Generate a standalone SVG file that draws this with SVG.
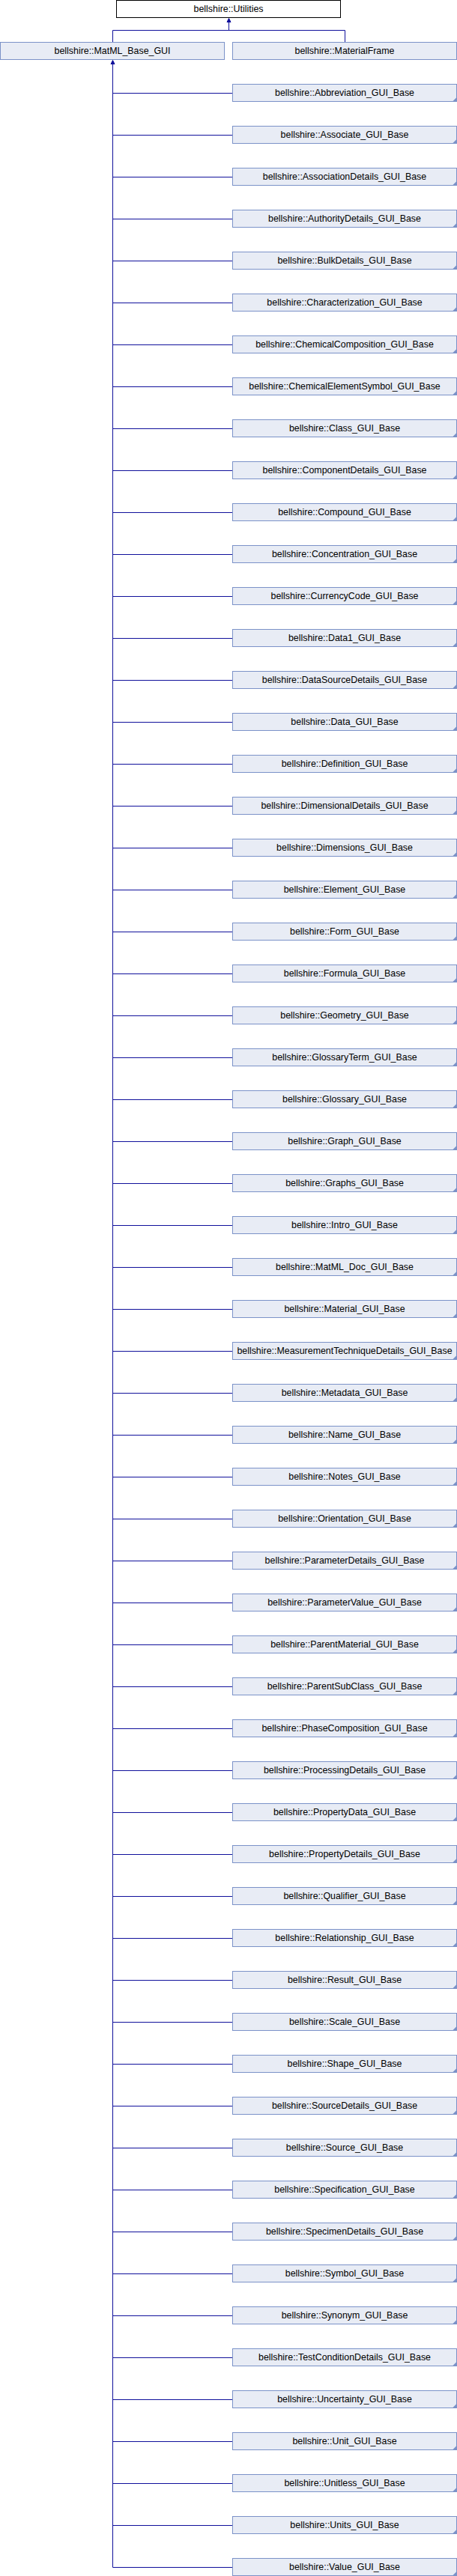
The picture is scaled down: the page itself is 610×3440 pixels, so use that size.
<svg xmlns="http://www.w3.org/2000/svg" xmlns:xlink="http://www.w3.org/1999/xlink" width="610" height="3440" viewBox="0 0 610 3440">
<style>
text{font-family:"Liberation Sans",Arial,sans-serif;font-size:12.4px;fill:#000;text-anchor:middle}
.b{fill:#e8ecf5;stroke:#7b92c8;stroke-width:1}
.r{fill:#fff;stroke:#000;stroke-width:1}
.c{fill:none;stroke:#10109b;stroke-width:1}
.a{fill:#10109b;stroke:#10109b;stroke-width:1}
.f{fill:#7b92c8}
</style>
<defs>
<polygon id="fold" class="f" points="603.5,24 610,17.5 610,24"/>
</defs>
<g id="connectors">
<path class="c" d="M305.5,29 V40.5 M150.5,40.5 H460.5 M150.5,40.5 V56.5 M460.5,40.5 V56.5"/>
<polygon class="a" points="305.5,24.5 303,29.5 308,29.5"/>
<path class="c" d="M150.5,85 V3428.5"/>
<polygon class="a" points="150.5,80.5 148,85.5 153,85.5"/>
<path class="c" d="M150.5,124.5H310.5M150.5,180.5H310.5M150.5,236.5H310.5M150.5,292.5H310.5M150.5,348.5H310.5M150.5,404.5H310.5M150.5,460.5H310.5M150.5,516.5H310.5M150.5,572.5H310.5M150.5,628.5H310.5M150.5,684.5H310.5M150.5,740.5H310.5M150.5,796.5H310.5M150.5,852.5H310.5M150.5,908.5H310.5M150.5,964.5H310.5M150.5,1020.5H310.5M150.5,1076.5H310.5M150.5,1132.5H310.5M150.5,1188.5H310.5M150.5,1244.5H310.5M150.5,1300.5H310.5M150.5,1356.5H310.5M150.5,1412.5H310.5M150.5,1468.5H310.5M150.5,1524.5H310.5M150.5,1580.5H310.5M150.5,1636.5H310.5M150.5,1692.5H310.5M150.5,1748.5H310.5M150.5,1804.5H310.5M150.5,1860.5H310.5M150.5,1916.5H310.5M150.5,1972.5H310.5M150.5,2028.5H310.5M150.5,2084.5H310.5M150.5,2140.5H310.5M150.5,2196.5H310.5M150.5,2252.5H310.5M150.5,2308.5H310.5M150.5,2364.5H310.5M150.5,2420.5H310.5M150.5,2476.5H310.5M150.5,2532.5H310.5M150.5,2588.5H310.5M150.5,2644.5H310.5M150.5,2700.5H310.5M150.5,2756.5H310.5M150.5,2812.5H310.5M150.5,2868.5H310.5M150.5,2924.5H310.5M150.5,2980.5H310.5M150.5,3036.5H310.5M150.5,3092.5H310.5M150.5,3148.5H310.5M150.5,3204.5H310.5M150.5,3260.5H310.5M150.5,3316.5H310.5M150.5,3372.5H310.5M150.5,3428.5H310.5"/>
</g>
<g id="Utilities"><rect class="r" x="155.5" y="0.5" width="299" height="23"/><text x="305" y="16">bellshire::Utilities</text></g>
<g id="MatML_Base_GUI"><rect class="b" x="0.5" y="56.5" width="299" height="23"/><text x="150" y="72">bellshire::MatML_Base_GUI</text></g>
<g id="MaterialFrame"><rect class="b" x="310.5" y="56.5" width="299" height="23"/><text x="460" y="72">bellshire::MaterialFrame</text></g>
<g id="n0" transform="translate(0,112)"><rect class="b" x="310.5" y="0.5" width="299" height="23"/><use xlink:href="#fold"/><text x="460" y="16">bellshire::Abbreviation_GUI_Base</text></g>
<g id="n1" transform="translate(0,168)"><rect class="b" x="310.5" y="0.5" width="299" height="23"/><use xlink:href="#fold"/><text x="460" y="16">bellshire::Associate_GUI_Base</text></g>
<g id="n2" transform="translate(0,224)"><rect class="b" x="310.5" y="0.5" width="299" height="23"/><use xlink:href="#fold"/><text x="460" y="16">bellshire::AssociationDetails_GUI_Base</text></g>
<g id="n3" transform="translate(0,280)"><rect class="b" x="310.5" y="0.5" width="299" height="23"/><use xlink:href="#fold"/><text x="460" y="16">bellshire::AuthorityDetails_GUI_Base</text></g>
<g id="n4" transform="translate(0,336)"><rect class="b" x="310.5" y="0.5" width="299" height="23"/><use xlink:href="#fold"/><text x="460" y="16">bellshire::BulkDetails_GUI_Base</text></g>
<g id="n5" transform="translate(0,392)"><rect class="b" x="310.5" y="0.5" width="299" height="23"/><use xlink:href="#fold"/><text x="460" y="16">bellshire::Characterization_GUI_Base</text></g>
<g id="n6" transform="translate(0,448)"><rect class="b" x="310.5" y="0.5" width="299" height="23"/><use xlink:href="#fold"/><text x="460" y="16">bellshire::ChemicalComposition_GUI_Base</text></g>
<g id="n7" transform="translate(0,504)"><rect class="b" x="310.5" y="0.5" width="299" height="23"/><use xlink:href="#fold"/><text x="460" y="16">bellshire::ChemicalElementSymbol_GUI_Base</text></g>
<g id="n8" transform="translate(0,560)"><rect class="b" x="310.5" y="0.5" width="299" height="23"/><use xlink:href="#fold"/><text x="460" y="16">bellshire::Class_GUI_Base</text></g>
<g id="n9" transform="translate(0,616)"><rect class="b" x="310.5" y="0.5" width="299" height="23"/><use xlink:href="#fold"/><text x="460" y="16">bellshire::ComponentDetails_GUI_Base</text></g>
<g id="n10" transform="translate(0,672)"><rect class="b" x="310.5" y="0.5" width="299" height="23"/><use xlink:href="#fold"/><text x="460" y="16">bellshire::Compound_GUI_Base</text></g>
<g id="n11" transform="translate(0,728)"><rect class="b" x="310.5" y="0.5" width="299" height="23"/><use xlink:href="#fold"/><text x="460" y="16">bellshire::Concentration_GUI_Base</text></g>
<g id="n12" transform="translate(0,784)"><rect class="b" x="310.5" y="0.5" width="299" height="23"/><use xlink:href="#fold"/><text x="460" y="16">bellshire::CurrencyCode_GUI_Base</text></g>
<g id="n13" transform="translate(0,840)"><rect class="b" x="310.5" y="0.5" width="299" height="23"/><use xlink:href="#fold"/><text x="460" y="16">bellshire::Data1_GUI_Base</text></g>
<g id="n14" transform="translate(0,896)"><rect class="b" x="310.5" y="0.5" width="299" height="23"/><use xlink:href="#fold"/><text x="460" y="16">bellshire::DataSourceDetails_GUI_Base</text></g>
<g id="n15" transform="translate(0,952)"><rect class="b" x="310.5" y="0.5" width="299" height="23"/><use xlink:href="#fold"/><text x="460" y="16">bellshire::Data_GUI_Base</text></g>
<g id="n16" transform="translate(0,1008)"><rect class="b" x="310.5" y="0.5" width="299" height="23"/><use xlink:href="#fold"/><text x="460" y="16">bellshire::Definition_GUI_Base</text></g>
<g id="n17" transform="translate(0,1064)"><rect class="b" x="310.5" y="0.5" width="299" height="23"/><use xlink:href="#fold"/><text x="460" y="16">bellshire::DimensionalDetails_GUI_Base</text></g>
<g id="n18" transform="translate(0,1120)"><rect class="b" x="310.5" y="0.5" width="299" height="23"/><use xlink:href="#fold"/><text x="460" y="16">bellshire::Dimensions_GUI_Base</text></g>
<g id="n19" transform="translate(0,1176)"><rect class="b" x="310.5" y="0.5" width="299" height="23"/><use xlink:href="#fold"/><text x="460" y="16">bellshire::Element_GUI_Base</text></g>
<g id="n20" transform="translate(0,1232)"><rect class="b" x="310.5" y="0.5" width="299" height="23"/><use xlink:href="#fold"/><text x="460" y="16">bellshire::Form_GUI_Base</text></g>
<g id="n21" transform="translate(0,1288)"><rect class="b" x="310.5" y="0.5" width="299" height="23"/><use xlink:href="#fold"/><text x="460" y="16">bellshire::Formula_GUI_Base</text></g>
<g id="n22" transform="translate(0,1344)"><rect class="b" x="310.5" y="0.5" width="299" height="23"/><use xlink:href="#fold"/><text x="460" y="16">bellshire::Geometry_GUI_Base</text></g>
<g id="n23" transform="translate(0,1400)"><rect class="b" x="310.5" y="0.5" width="299" height="23"/><use xlink:href="#fold"/><text x="460" y="16">bellshire::GlossaryTerm_GUI_Base</text></g>
<g id="n24" transform="translate(0,1456)"><rect class="b" x="310.5" y="0.5" width="299" height="23"/><use xlink:href="#fold"/><text x="460" y="16">bellshire::Glossary_GUI_Base</text></g>
<g id="n25" transform="translate(0,1512)"><rect class="b" x="310.5" y="0.5" width="299" height="23"/><use xlink:href="#fold"/><text x="460" y="16">bellshire::Graph_GUI_Base</text></g>
<g id="n26" transform="translate(0,1568)"><rect class="b" x="310.5" y="0.5" width="299" height="23"/><use xlink:href="#fold"/><text x="460" y="16">bellshire::Graphs_GUI_Base</text></g>
<g id="n27" transform="translate(0,1624)"><rect class="b" x="310.5" y="0.5" width="299" height="23"/><use xlink:href="#fold"/><text x="460" y="16">bellshire::Intro_GUI_Base</text></g>
<g id="n28" transform="translate(0,1680)"><rect class="b" x="310.5" y="0.5" width="299" height="23"/><use xlink:href="#fold"/><text x="460" y="16">bellshire::MatML_Doc_GUI_Base</text></g>
<g id="n29" transform="translate(0,1736)"><rect class="b" x="310.5" y="0.5" width="299" height="23"/><use xlink:href="#fold"/><text x="460" y="16">bellshire::Material_GUI_Base</text></g>
<g id="n30" transform="translate(0,1792)"><rect class="b" x="310.5" y="0.5" width="299" height="23"/><use xlink:href="#fold"/><text x="460" y="16">bellshire::MeasurementTechniqueDetails_GUI_Base</text></g>
<g id="n31" transform="translate(0,1848)"><rect class="b" x="310.5" y="0.5" width="299" height="23"/><use xlink:href="#fold"/><text x="460" y="16">bellshire::Metadata_GUI_Base</text></g>
<g id="n32" transform="translate(0,1904)"><rect class="b" x="310.5" y="0.5" width="299" height="23"/><use xlink:href="#fold"/><text x="460" y="16">bellshire::Name_GUI_Base</text></g>
<g id="n33" transform="translate(0,1960)"><rect class="b" x="310.5" y="0.5" width="299" height="23"/><use xlink:href="#fold"/><text x="460" y="16">bellshire::Notes_GUI_Base</text></g>
<g id="n34" transform="translate(0,2016)"><rect class="b" x="310.5" y="0.5" width="299" height="23"/><use xlink:href="#fold"/><text x="460" y="16">bellshire::Orientation_GUI_Base</text></g>
<g id="n35" transform="translate(0,2072)"><rect class="b" x="310.5" y="0.5" width="299" height="23"/><use xlink:href="#fold"/><text x="460" y="16">bellshire::ParameterDetails_GUI_Base</text></g>
<g id="n36" transform="translate(0,2128)"><rect class="b" x="310.5" y="0.5" width="299" height="23"/><use xlink:href="#fold"/><text x="460" y="16">bellshire::ParameterValue_GUI_Base</text></g>
<g id="n37" transform="translate(0,2184)"><rect class="b" x="310.5" y="0.5" width="299" height="23"/><use xlink:href="#fold"/><text x="460" y="16">bellshire::ParentMaterial_GUI_Base</text></g>
<g id="n38" transform="translate(0,2240)"><rect class="b" x="310.5" y="0.5" width="299" height="23"/><use xlink:href="#fold"/><text x="460" y="16">bellshire::ParentSubClass_GUI_Base</text></g>
<g id="n39" transform="translate(0,2296)"><rect class="b" x="310.5" y="0.5" width="299" height="23"/><use xlink:href="#fold"/><text x="460" y="16">bellshire::PhaseComposition_GUI_Base</text></g>
<g id="n40" transform="translate(0,2352)"><rect class="b" x="310.5" y="0.5" width="299" height="23"/><use xlink:href="#fold"/><text x="460" y="16">bellshire::ProcessingDetails_GUI_Base</text></g>
<g id="n41" transform="translate(0,2408)"><rect class="b" x="310.5" y="0.5" width="299" height="23"/><use xlink:href="#fold"/><text x="460" y="16">bellshire::PropertyData_GUI_Base</text></g>
<g id="n42" transform="translate(0,2464)"><rect class="b" x="310.5" y="0.5" width="299" height="23"/><use xlink:href="#fold"/><text x="460" y="16">bellshire::PropertyDetails_GUI_Base</text></g>
<g id="n43" transform="translate(0,2520)"><rect class="b" x="310.5" y="0.5" width="299" height="23"/><use xlink:href="#fold"/><text x="460" y="16">bellshire::Qualifier_GUI_Base</text></g>
<g id="n44" transform="translate(0,2576)"><rect class="b" x="310.5" y="0.5" width="299" height="23"/><use xlink:href="#fold"/><text x="460" y="16">bellshire::Relationship_GUI_Base</text></g>
<g id="n45" transform="translate(0,2632)"><rect class="b" x="310.5" y="0.5" width="299" height="23"/><use xlink:href="#fold"/><text x="460" y="16">bellshire::Result_GUI_Base</text></g>
<g id="n46" transform="translate(0,2688)"><rect class="b" x="310.5" y="0.5" width="299" height="23"/><use xlink:href="#fold"/><text x="460" y="16">bellshire::Scale_GUI_Base</text></g>
<g id="n47" transform="translate(0,2744)"><rect class="b" x="310.5" y="0.5" width="299" height="23"/><use xlink:href="#fold"/><text x="460" y="16">bellshire::Shape_GUI_Base</text></g>
<g id="n48" transform="translate(0,2800)"><rect class="b" x="310.5" y="0.5" width="299" height="23"/><use xlink:href="#fold"/><text x="460" y="16">bellshire::SourceDetails_GUI_Base</text></g>
<g id="n49" transform="translate(0,2856)"><rect class="b" x="310.5" y="0.5" width="299" height="23"/><use xlink:href="#fold"/><text x="460" y="16">bellshire::Source_GUI_Base</text></g>
<g id="n50" transform="translate(0,2912)"><rect class="b" x="310.5" y="0.5" width="299" height="23"/><use xlink:href="#fold"/><text x="460" y="16">bellshire::Specification_GUI_Base</text></g>
<g id="n51" transform="translate(0,2968)"><rect class="b" x="310.5" y="0.5" width="299" height="23"/><use xlink:href="#fold"/><text x="460" y="16">bellshire::SpecimenDetails_GUI_Base</text></g>
<g id="n52" transform="translate(0,3024)"><rect class="b" x="310.5" y="0.5" width="299" height="23"/><use xlink:href="#fold"/><text x="460" y="16">bellshire::Symbol_GUI_Base</text></g>
<g id="n53" transform="translate(0,3080)"><rect class="b" x="310.5" y="0.5" width="299" height="23"/><use xlink:href="#fold"/><text x="460" y="16">bellshire::Synonym_GUI_Base</text></g>
<g id="n54" transform="translate(0,3136)"><rect class="b" x="310.5" y="0.5" width="299" height="23"/><use xlink:href="#fold"/><text x="460" y="16">bellshire::TestConditionDetails_GUI_Base</text></g>
<g id="n55" transform="translate(0,3192)"><rect class="b" x="310.5" y="0.5" width="299" height="23"/><use xlink:href="#fold"/><text x="460" y="16">bellshire::Uncertainty_GUI_Base</text></g>
<g id="n56" transform="translate(0,3248)"><rect class="b" x="310.5" y="0.5" width="299" height="23"/><use xlink:href="#fold"/><text x="460" y="16">bellshire::Unit_GUI_Base</text></g>
<g id="n57" transform="translate(0,3304)"><rect class="b" x="310.5" y="0.5" width="299" height="23"/><use xlink:href="#fold"/><text x="460" y="16">bellshire::Unitless_GUI_Base</text></g>
<g id="n58" transform="translate(0,3360)"><rect class="b" x="310.5" y="0.5" width="299" height="23"/><use xlink:href="#fold"/><text x="460" y="16">bellshire::Units_GUI_Base</text></g>
<g id="n59" transform="translate(0,3416)"><rect class="b" x="310.5" y="0.5" width="299" height="23"/><use xlink:href="#fold"/><text x="460" y="16">bellshire::Value_GUI_Base</text></g>
</svg>
